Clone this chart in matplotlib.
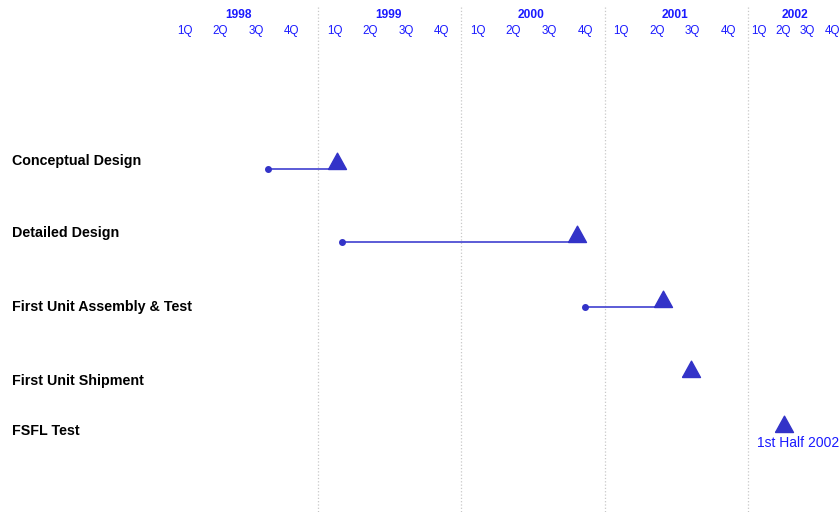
import numpy as np
import matplotlib
matplotlib.use('Agg')
import matplotlib.pyplot as plt

plt.rcParams['font.family'] = ['Liberation Sans', 'DejaVu Sans']

# milestone data (years, fractional)
tasks = ['Conceptual Design', 'Detailed Design', 'First Unit Assembly & Test',
         'First Unit Shipment', 'FSFL Test']
starts = [1998.65, 1999.17, 2000.86, None, None]
finishes = [1999.13, 2000.81, 2001.41, 2001.60, 2002.25]
notes = [None, None, None, None, '1st Half 2002']

years = [1998, 1999, 2000, 2001, 2002]
quarters = ['1Q', '2Q', '3Q', '4Q']

# layout (pixel rows, top = 0)
label_y = [161, 233, 307, 381, 431]
base_y = [169, 242, 307, 377, 432]
# quarter label offset/step for each year header
q_offset = [0.07, 0.115, 0.115, 0.115, 0.077]
q_step = [0.248, 0.25, 0.25, 0.25, 0.17]

BLUE_TXT = '#1a1aff'
BLUE_MK = '#3333c8'
BLUE_LN = '#4040d0'

fig = plt.figure(figsize=(8.4, 5.12), dpi=100)
ax = fig.add_axes([0, 0, 1, 1])
px_per_year = 143.3
x0 = 1998 - 174.7 / px_per_year
ax.set_xlim(x0, x0 + 840 / px_per_year)
ax.set_ylim(512, 0)
ax.axis('off')

# year dividers
for yr in years[1:]:
    ax.plot([yr, yr], [7, 512], color='#c8c8c8', linestyle=':', linewidth=0.9, zorder=1)

# header
for i, yr in enumerate(years):
    qx = [yr + q_offset[i] + q_step[i] * q for q in range(4)]
    for x, q in zip(qx, quarters):
        ax.text(x, 31, q, color=BLUE_TXT, fontsize=8.4, ha='center', va='center')
    ax.text(np.mean(qx), 15, str(yr), color=BLUE_TXT, fontsize=8.6,
            fontweight='bold', ha='center', va='center')

# triangle marker with base on the baseline
tri = [(-0.55, 0), (0.55, 0), (0, 1), (-0.55, 0)]

for i, name in enumerate(tasks):
    ax.text(12 / px_per_year + x0, label_y[i], name, fontsize=10.3, fontweight='bold',
            ha='left', va='center', color='black')
    if starts[i] is not None:
        ax.plot([starts[i], finishes[i]], [base_y[i], base_y[i]], color=BLUE_LN,
                linewidth=1.2, zorder=2)
        ax.plot(starts[i], base_y[i], 'o', color=BLUE_MK, markersize=4, zorder=3)
    ax.plot(finishes[i], base_y[i], marker=tri, color=BLUE_MK, markersize=23.5,
            linestyle='none', zorder=4)
    if notes[i]:
        ax.text(finishes[i] + 0.1, base_y[i] + 11, notes[i], color=BLUE_TXT,
                fontsize=10, ha='center', va='center')

fig.savefig('out.png', dpi=100)
